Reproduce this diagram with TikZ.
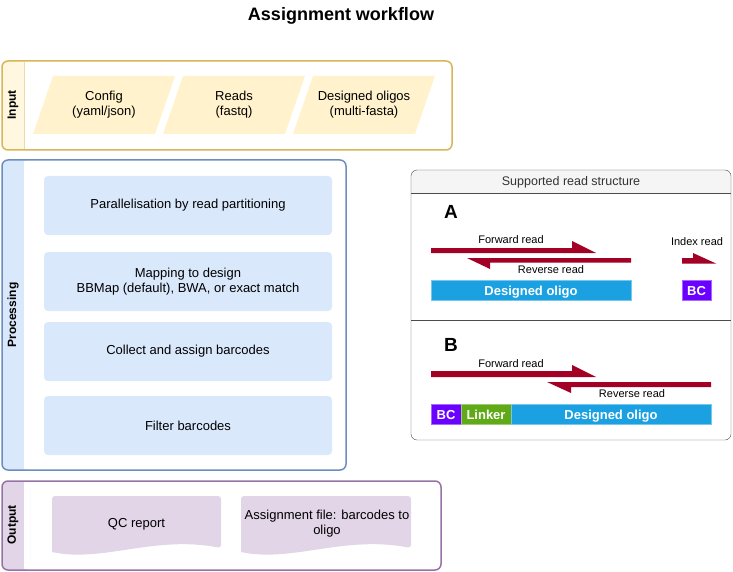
\documentclass[tikz,border=0pt]{standalone}
\usepackage{fontspec}
\setmainfont{Liberation Sans}
\usetikzlibrary{positioning}
\definecolor{inyel}{HTML}{D6B656}
\definecolor{inyelf}{HTML}{FFF2CC}
\definecolor{problue}{HTML}{6C8EBF}
\definecolor{problf}{HTML}{DAE8FC}
\definecolor{outpur}{HTML}{9673A6}
\definecolor{outpf}{HTML}{E1D5E7}
\definecolor{oligo}{HTML}{1BA1E2}
\definecolor{bcvio}{HTML}{6A00FF}
\definecolor{linkgr}{HTML}{60A917}
\definecolor{readred}{HTML}{A20025}
\tikzset{
	lane/.style={draw=#1, line width=1.5pt, rounded corners=6pt},
	lanetitle/.style={rotate=90, font=\bfseries\fontsize{12}{14}\selectfont},
	procstep/.style={fill=problf, rounded corners=4pt, minimum width=288pt, minimum height=59pt, align=center, font=\fontsize{13}{15}\selectfont},
	filetext/.style={align=center, font=\fontsize{13}{15}\selectfont},
	doctext/.style={align=center, font=\fontsize{13}{15}\selectfont},
	segment/.style={draw=#1!60!white, fill=#1, text=white, font=\bfseries\fontsize{13}{15}\selectfont, inner sep=0pt, minimum height=20pt, text height=11pt, text depth=0pt},
	readlbl/.style={font=\fontsize{11}{13}\selectfont},
	read/.style={fill=readred}
}
\begin{document}
\begin{tikzpicture}[x=1pt,y=-1pt]
\useasboundingbox (0,0) rectangle (733,572);
\node[font=\bfseries\fontsize{18}{21}\selectfont] (title) at (341,16) {Assignment workflow};

% input lane
\fill[inyelf!60!white, rounded corners=6pt] (2,61) rectangle (30,150);
\fill[white] (24,62) rectangle (30,149);
\draw[lane=inyel] (2,61) rectangle (452,150);
\draw[inyel!50!white] (24,62) -- (24,149);
\node[lanetitle] (inlbl) at (13,105) {Input};
\foreach \xa in {33,163,293}
	\fill[inyelf] (\xa+20,76) -- (\xa+142,76) -- (\xa+122,134) -- (\xa,134) -- cycle;
\node[filetext] (config) at (104,105) {Config\\(yaml/json)};
\node[filetext] (reads) at (234,105) {Reads\\(fastq)};
\node[filetext] (oligos) at (364,105) {Designed oligos\\(multi-fasta)};

% processing lane
\fill[problf, rounded corners=6pt] (2,160) rectangle (30,470);
\fill[white] (24,161) rectangle (30,469);
\draw[lane=problue] (2,160) rectangle (346,470);
\node[lanetitle] (prolbl) at (13,315) {Processing};
\node[procstep] (partition) at (188,205.5) {Parallelisation by read partitioning};
\node[procstep] (mapping) at (188,281.5) {Mapping to design\\BBMap (default), BWA, or exact match};
\node[procstep] (collect) at (188,351.5) {Collect and assign barcodes};
\node[procstep] (filter) at (188,425.5) {Filter barcodes};

% output lane
\fill[outpf, rounded corners=6pt] (2,481) rectangle (30,570);
\fill[white] (24,482) rectangle (30,569);
\draw[lane=outpur] (2,481) rectangle (441,570);
\node[lanetitle] (outlbl) at (13,525) {Output};
\foreach \xa/\xb in {52/221, 241/411}
	\fill[outpf, rounded corners=3pt] (\xa,555) -- (\xa,496) -- (\xb,496) -- (\xb,548)
		[sharp corners] .. controls ({\xa+0.6*(\xb-\xa)},535) and ({\xa+0.3*(\xb-\xa)},563) .. (\xa,552) -- cycle;
\node[doctext] (qc) at (136.5,524) {QC report};
\node[doctext] (assign) at (327,524) {Assignment file: barcodes to\\oligo};

% read structure panel
\fill[black!4, rounded corners=6pt] (411,170) rectangle (731,200);
\fill[white] (412,193) rectangle (730,200);
\draw[black!70, rounded corners=6pt] (411,170) rectangle (731,440);
\draw[black!70] (411,193) -- (731,193);
\draw[black!70] (411,320) -- (731,320);
\node[font=\fontsize{12.5}{14}\selectfont, text=black!80] (panel) at (571,182) {Supported read structure};
\node[font=\bfseries\fontsize{19}{21}\selectfont] (lblA) at (451,212) {A};
\node[font=\bfseries\fontsize{19}{21}\selectfont] (lblB) at (451,345) {B};

% A
\fill[read] (431,248) -- (572,248) -- (572,241) -- (596,253) -- (431,253) -- cycle;
\fill[read] (631,258) -- (631,262.5) -- (490,262.5) -- (490,269) -- (467,258) -- cycle;
\fill[read] (682,258) -- (693,258) -- (693,253) -- (716,263.5) -- (682,263.5) -- cycle;
\node[readlbl] (fwdA) at (511,240) {Forward read};
\node[readlbl] (revA) at (551,270) {Reverse read};
\node[readlbl] (idxA) at (697,242) {Index read};
\node[segment=oligo, minimum width=200pt] (oligoA) at (531,290) {Designed oligo};
\node[segment=bcvio, minimum width=29pt] (bcA) at (696.5,290) {BC};

% B
\fill[read] (431,371) -- (572,371) -- (572,365) -- (596,377) -- (431,377) -- cycle;
\fill[read] (711,382) -- (711,387) -- (571,387) -- (571,393) -- (547,382) -- cycle;
\node[readlbl] (fwdB) at (511,364) {Forward read};
\node[readlbl] (revB) at (632,394) {Reverse read};
\node[segment=bcvio, minimum width=30pt] (bcB) at (446,414) {BC};
\node[segment=linkgr, minimum width=50pt] (linker) at (486,414) {Linker};
\node[segment=oligo, minimum width=200pt] (oligoB) at (611,414) {Designed oligo};
\end{tikzpicture}
\end{document}
